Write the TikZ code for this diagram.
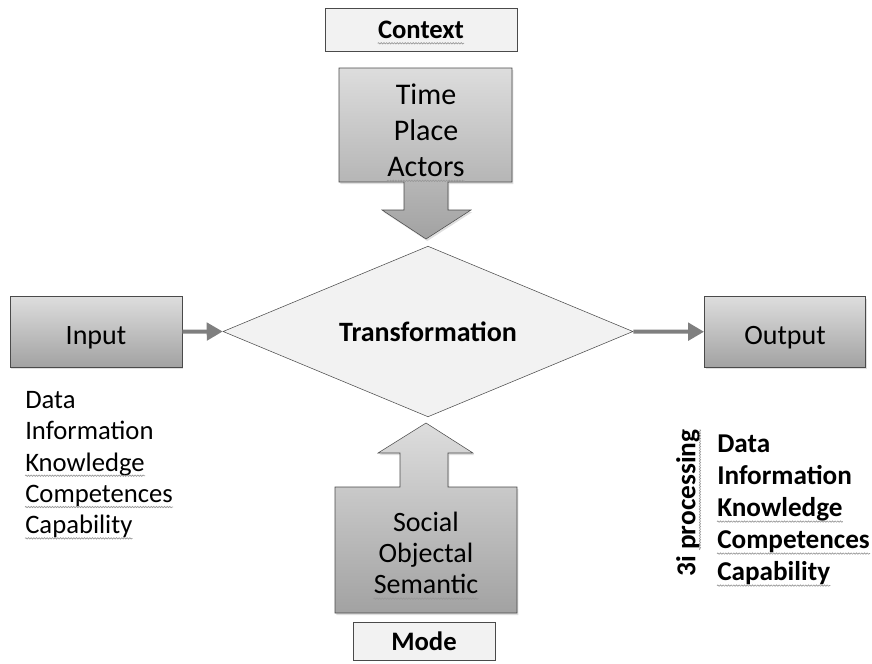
\documentclass[tikz,border=0pt]{standalone}
\usepackage{fontspec}
\setmainfont{Carlito}
\usepackage{xcolor}
\usetikzlibrary{shapes.geometric,arrows.meta,shadows,decorations.pathmorphing}

\definecolor{boxtop}{HTML}{DDDDDD}
\definecolor{boxbot}{HTML}{A2A2A2}
\definecolor{pale}{HTML}{F2F2F2}
\definecolor{edge}{HTML}{4A4A4A}
\definecolor{flowgray}{HTML}{7F7F7F}

% spell-check squiggle under a word
\newcommand{\spell}[1]{\tikz[baseline=(w.base)]{\node[shape=rectangle, draw=none, fill=none,
    inner sep=0pt, minimum size=0pt] (w) {#1};
  \draw[overlay, gray!80, line width=0.5pt, decorate, decoration={snake, amplitude=0.5pt, segment length=2pt}]
    ([yshift=-3.5pt]w.base west) -- ([yshift=-3.5pt]w.base east);}}

\begin{document}
\begin{tikzpicture}[x=0.75pt,y=-0.75pt,
  shadebox/.style={draw=edge, top color=boxtop, bottom color=boxbot,
    drop shadow={opacity=0.25, shadow xshift=1pt, shadow yshift=-1.5pt}},
  palebox/.style={draw=edge, fill=pale, inner sep=0pt,
    font=\fontsize{20}{24}\selectfont\bfseries},
  sidebox/.style={shadebox, minimum height=53pt, inner sep=0pt,
    text height=19pt, text depth=0pt, font=\fontsize{21}{26}\selectfont},
  bigtext/.style={align=center, inner sep=0pt},
  flow/.style={draw=flowgray, line width=3pt,
    -{Triangle[length=12pt,width=13pt]}}]

\useasboundingbox (0,0) rectangle (872,664);

% top: context
\node[palebox, minimum width=144pt, minimum height=32pt] (context) at (421,30) {\spell{Context}};

\draw[shadebox] (339,68) -- (512,68) -- (512,182) -- (448,182) -- (448,210) -- (471,210)
  -- (426,239) -- (382,210) -- (404,210) -- (404,182) -- (339,182) -- cycle;
\node[bigtext, font=\fontsize{22.5}{27}\selectfont] (tpa) at (426,130) {Time\\Place\\\spell{Actors}};

% middle row
\node[sidebox, minimum width=129pt] (input) at (96,332) {Input};
\node[sidebox, minimum width=121pt] (output) at (785,332) {Output};
\node[diamond, draw=edge, fill=pale, aspect=2.4, inner sep=0pt,
  minimum width=307.5pt, minimum height=128pt,
  font=\fontsize{21}{25}\selectfont\bfseries] (trans) at (428,331.5) {Transformation};

\draw[flow] (input) -- (trans.west);
\draw[flow] (trans.east) -- (output);

% lists
\node[anchor=north west, align=left, inner sep=0pt,
  font=\fontsize{20}{23.5}\selectfont] (inlist) at (25,391)
  {Data\\Information\\\spell{Knowledge}\\\spell{Competences}\\\spell{Capability}};
\node[anchor=north west, align=left, inner sep=0pt,
  font=\fontsize{20.4}{24}\selectfont\bfseries] (outlist) at (717,435)
  {Data\\Information\\\spell{Knowledge}\\\spell{Competences}\\\spell{Capability}};
\node[rotate=90, inner sep=0pt, font=\fontsize{20.5}{24}\selectfont\bfseries]
  (proc) at (688,503) {3i \spell{processing}};

% bottom: mode
\draw[shadebox] (426,423) -- (473,453) -- (448,453) -- (448,487) -- (517,487) -- (517,613)
  -- (335,613) -- (335,487) -- (400,487) -- (400,453) -- (378,453) -- cycle;
\node[bigtext, font=\fontsize{21}{23.5}\selectfont] (sos) at (426,553) {Social\\Objectal\\\spell{Semantic}};

\node[palebox, minimum width=106.5pt, minimum height=28.5pt] (mode) at (424,641) {Mode};

\end{tikzpicture}
\end{document}
